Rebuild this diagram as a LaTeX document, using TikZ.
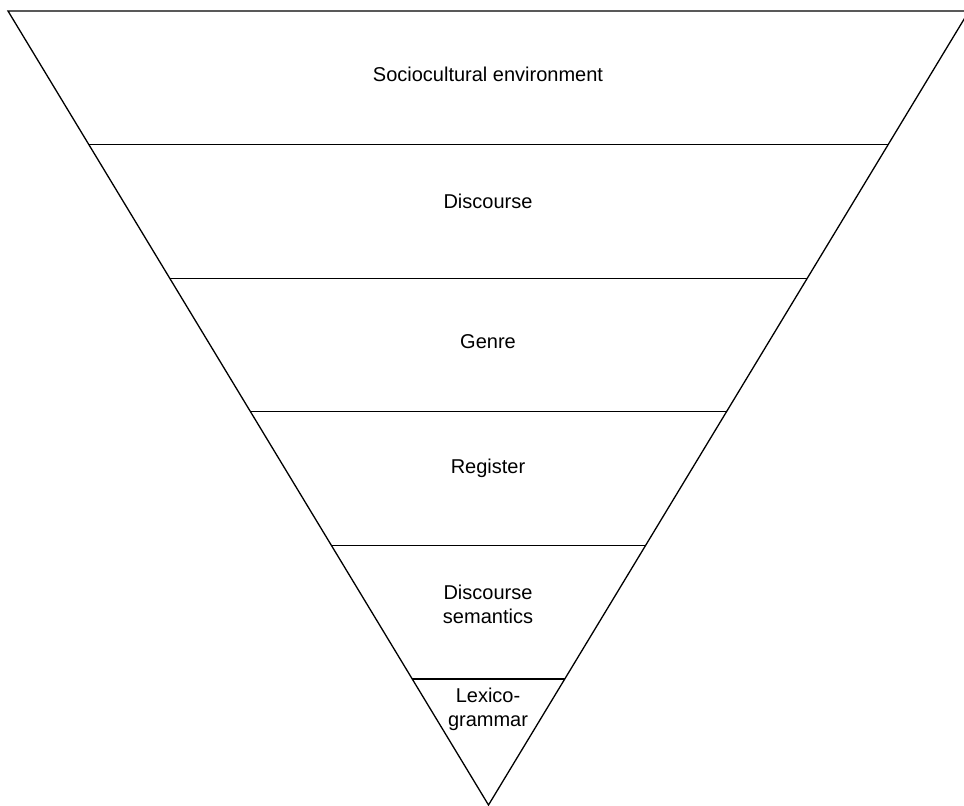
\documentclass[tikz,border=0pt]{standalone}
\usepackage{fontspec}
\setmainfont{Liberation Sans}
\usetikzlibrary{calc}
\begin{document}
\begin{tikzpicture}[x=1pt,y=-1pt,
  edge/.style={line width=1.3pt, line join=miter},
  lbl/.style={font=\fontsize{20}{24}\selectfont, align=center, inner sep=0pt}]
\useasboundingbox (0,0) rectangle (964,806);
\coordinate (TL) at (8,11);
\coordinate (TR) at (969,11);
\coordinate (A) at (488.5,805);
\draw[edge] (TL) -- (TR) -- (A) -- cycle;
\foreach \yy in {144.6,278.2,411.8,545.4,679} {
  \draw[edge] ($(TL)!{(\yy-11)/794}!(A)$) -- ($(TR)!{(\yy-11)/794}!(A)$);
}
\node[lbl] (s1) at (488,74.5) {Sociocultural environment};
\node[lbl] (s2) at (488,201.5) {Discourse};
\node[lbl] (s3) at (488,341.5) {Genre};
\node[lbl] (s4) at (488,468) {Register};
\node[lbl] (s5) at (488,604) {Discourse\\semantics};
\node[lbl] (s6) at (488,709) {Lexico-\\grammar};
\end{tikzpicture}
\end{document}
